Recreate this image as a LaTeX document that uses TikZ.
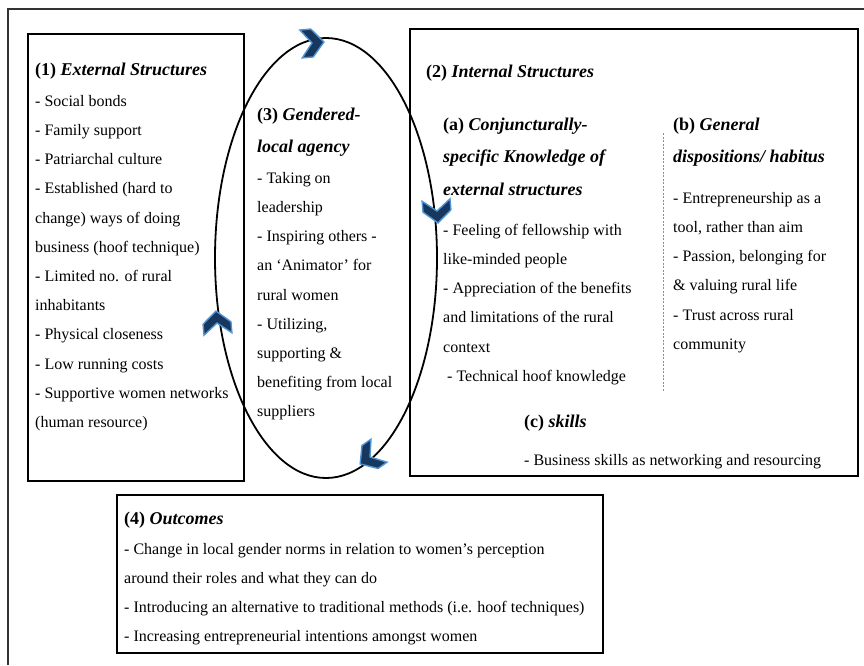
\documentclass[tikz,border=0pt]{standalone}
\usepackage{fontspec}
\setmainfont{Liberation Serif}
\usepackage{tikz}
\usetikzlibrary{shapes.geometric,positioning}

\definecolor{chevfill}{HTML}{17375E}
\definecolor{chevline}{HTML}{4F94D4}
\definecolor{sepline}{HTML}{5B9BD5}

\newcommand{\chevron}[2]{%
  \filldraw[chev,shift={(#1)},rotate=#2]
    (-11,14) -- (0,14) -- (12,0) -- (0,-14) -- (-11,-14) -- (0,0) -- cycle;}

\begin{document}
\begin{tikzpicture}[x=1pt,y=-1pt,
  box/.style={draw, line width=1.8pt, anchor=north west, inner sep=0pt},
  head/.style={font=\fontsize{18}{32.5}\selectfont\bfseries, align=left, anchor=north west,
    inner sep=0pt, yshift=22.75pt},
  items/.style={font=\fontsize{16}{29.2}\selectfont, align=left, anchor=north west,
    inner sep=0pt, yshift=20.44pt},
  chev/.style={fill=chevfill, draw=chevline, line width=1.4pt, line join=miter}]
  \useasboundingbox (0,0) rectangle (864,665);
  \draw[line width=1.2pt, black!80] (8,665) -- (8,9) -- (864,9);

  \node[box, minimum width=216pt, minimum height=447pt] (extbox) at (27,33) {};
  \node[box, minimum width=448pt, minimum height=447pt] (intbox) at (409,28) {};
  \node[box, minimum width=486pt, minimum height=158pt] (outbox) at (116,494) {};
  \node[draw, ellipse, line width=1.8pt, minimum width=222pt, minimum height=440pt,
    inner sep=0pt] (agency) at (326,258) {};

  \node[head] (exthead) at (35,75) {\strut(1) \textit{External Structures}};
  \node[items] (extlist) at (35,106) {\strut- Social bonds\\- Family support\\- Patriarchal culture\\
    - Established (hard to\\change) ways of doing\\business (hoof technique)\\
    - Limited no. of rural\\inhabitants\\- Physical closeness\\- Low running costs\\
    - Supportive women networks\\(human resource)};

  \node[head] (agyhead) at (257,120) {\strut(3) \textit{Gendered-}\\\textit{local agency}};
  \node[items] (agylist) at (257,183) {\strut- Taking on\\leadership\\- Inspiring others -\\
    an `Animator' for\\rural women\\- Utilizing,\\supporting \&\\benefiting from local\\suppliers};

  \node[head] (inthead) at (426,77) {\strut(2) \textit{Internal Structures}};
  \node[head] (knowhead) at (443,130) {\strut(a) \textit{Conjuncturally-}\\
    \textit{specific Knowledge of}\\\textit{external structures}};
  \node[items] (knowlist) at (443,235) {\strut- Feeling of fellowship with\\like-minded people\\
    - Appreciation of the benefits\\and limitations of the rural\\context\\
    \hspace*{4pt}- Technical hoof knowledge};
  \node[head] (habhead) at (673,130) {\strut(b) \textit{General}\\\textit{dispositions/ habitus}};
  \node[items] (hablist) at (673,203) {\strut- Entrepreneurship as a\\tool, rather than aim\\
    - Passion, belonging for\\\& valuing rural life\\- Trust across rural\\community};
  \draw[sepline, line width=0.8pt, dash pattern=on 2pt off 1.5pt] (663,133) -- (663,392);
  \node[head] (skillhead) at (524,427) {\strut(c) \textit{skills}};
  \node[items] (skilllist) at (524,465) {\strut- Business skills as networking and resourcing};

  \node[head] (outhead) at (124,524) {\strut(4) \textit{Outcomes}};
  \node[items] (outlist) at (124,554) {\strut- Change in local gender norms in relation to women's perception\\
    around their roles and what they can do\\
    - Introducing an alternative to traditional methods (i.e. hoof techniques)\\
    - Increasing entrepreneurial intentions amongst women};

  \chevron{312,43}{5}
  \chevron{437,211}{-85}
  \chevron{370,457}{215}
  \chevron{217,323}{95}
\end{tikzpicture}
\end{document}
